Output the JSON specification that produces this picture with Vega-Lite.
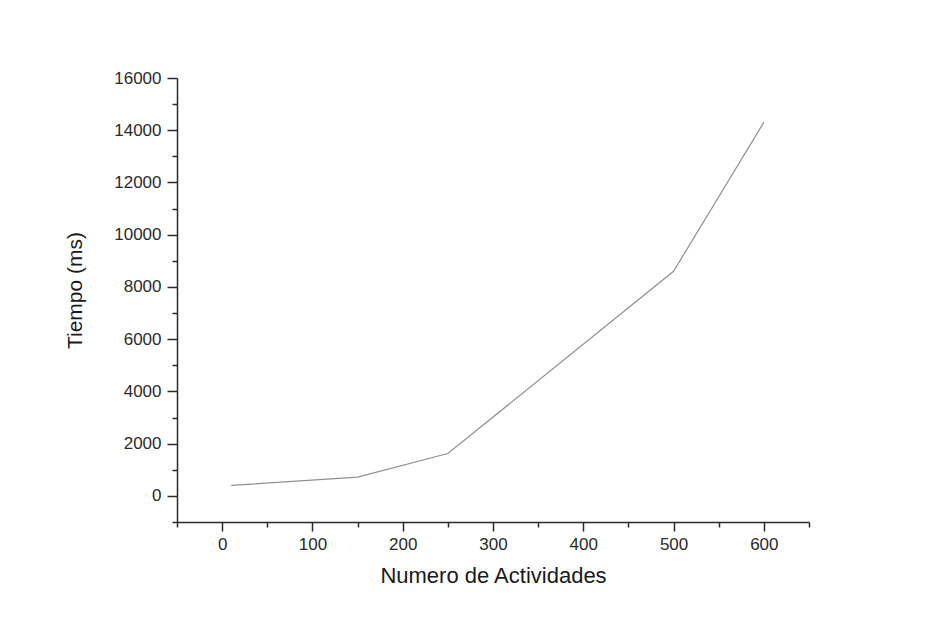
{
  "$schema": "https://vega.github.io/schema/vega-lite/v6.json",
  "width": 632,
  "height": 444,
  "autosize": {"type": "none"},
  "padding": {"left": 177, "top": 78, "right": 116, "bottom": 100},
  "background": "white",
  "config": {
    "view": {"stroke": null},
    "font": "Liberation Sans",
    "axis": {
      "grid": false,
      "domainColor": "#2a2a2a",
      "domainWidth": 1.5,
      "tickColor": "#2a2a2a",
      "tickWidth": 1.5,
      "labelColor": "#2a2a2a",
      "labelFont": "Liberation Sans",
      "labelFontSize": 17,
      "titleFont": "Liberation Sans",
      "titleFontWeight": "normal",
      "titleColor": "#1a1a1a"
    }
  },
  "data": {
    "values": [
      {"actividades": 10, "tiempo": 400},
      {"actividades": 150, "tiempo": 720},
      {"actividades": 250, "tiempo": 1620},
      {"actividades": 500, "tiempo": 8600},
      {"actividades": 600, "tiempo": 14300}
    ]
  },
  "layer": [
    {
      "mark": {"type": "line", "color": "#909090", "strokeWidth": 1.2},
      "encoding": {
        "x": {
          "field": "actividades",
          "type": "quantitative",
          "scale": {"domain": [-50, 650], "nice": false, "zero": false},
          "axis": {
            "orient": "bottom",
            "title": "Numero de Actividades",
            "titleFontSize": 22,
            "values": [0, 100, 200, 300, 400, 500, 600],
            "format": "d",
            "tickSize": 9,
            "labelPadding": 5,
            "titlePadding": 13,
            "labelFlush": false,
            "labelOverlap": false
          }
        },
        "y": {
          "field": "tiempo",
          "type": "quantitative",
          "scale": {"domain": [-1000, 16000], "nice": false, "zero": false},
          "axis": {
            "orient": "left",
            "title": "Tiempo (ms)",
            "titleFontSize": 21,
            "titleY": 212,
            "values": [0, 2000, 4000, 6000, 8000, 10000, 12000, 14000, 16000],
            "format": "d",
            "tickSize": 10,
            "labelPadding": 6,
            "titlePadding": 28,
            "labelFlush": false,
            "labelOverlap": false
          }
        }
      }
    },
    {
      "mark": {"type": "point", "opacity": 0},
      "encoding": {
        "x": {
          "field": "actividades",
          "type": "quantitative",
          "axis": {
            "orient": "bottom",
            "title": null,
            "values": [-50, 50, 150, 250, 350, 450, 550, 650],
            "labels": false,
            "domain": false,
            "tickSize": 5
          }
        },
        "y": {
          "field": "tiempo",
          "type": "quantitative",
          "axis": {
            "orient": "left",
            "title": null,
            "values": [-1000, 1000, 3000, 5000, 7000, 9000, 11000, 13000, 15000],
            "labels": false,
            "domain": false,
            "tickSize": 5
          }
        }
      }
    }
  ],
  "resolve": {"axis": {"x": "independent", "y": "independent"}}
}
